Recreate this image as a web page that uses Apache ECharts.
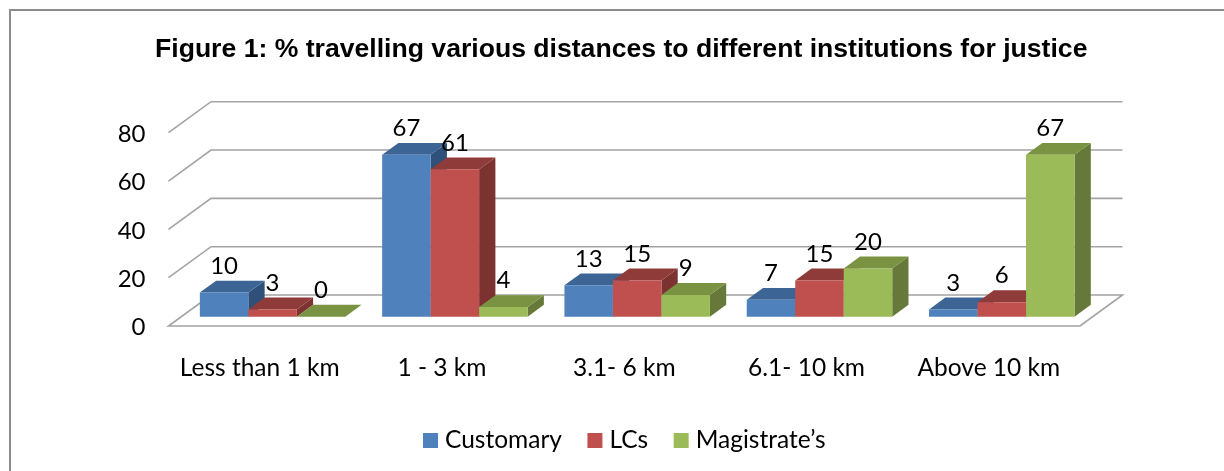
<!DOCTYPE html>
<html>
<head>
<meta charset="utf-8">
<style>html,body{margin:0;padding:0;background:#fff}#c{width:1224px;height:471px}</style>
<script src="https://cdn.jsdelivr.net/npm/echarts@6/dist/echarts.min.js"></script>
</head>
<body>
<div id="c"></div>
<script>
const categories = ['Less than 1 km', '1 - 3 km', '3.1- 6 km', '6.1- 10 km', 'Above 10 km'];
const customary = [10, 67, 13, 7, 3];
const lcs = [3, 61, 15, 15, 6];
const magistrates = [0, 4, 9, 20, 67];
const yTicks = [0, 20, 40, 60, 80];
const titleText = 'Figure 1: % travelling various distances to different institutions for justice';

const DEPTH_X = 42.5, DEPTH_Y = 31;
const BAR_START = 0.3, BAR_DEPTH = 0.383;
const BAR_W = 0.266, BAR_PAD = 0.102;
const GRID_C = '#a3a3a3';
const LABEL_FONT = 'Lato, "Open Sans", sans-serif';

function gridItem(params, api) {
  const v = api.value(0);
  const p = api.coord([0, v]);
  const band = api.size([1, 0])[0];
  const x0 = p[0] - band / 2, x1 = x0 + band * categories.length;
  const y = p[1];
  const style = { stroke: GRID_C, lineWidth: 1.6, fill: null };
  const line = v === 0
    ? { type: 'polygon', shape: { points: [[x0, y], [x1, y], [x1 + DEPTH_X, y - DEPTH_Y], [x0 + DEPTH_X, y - DEPTH_Y]] }, style, silent: true }
    : { type: 'polyline', shape: { points: [[x0, y], [x0 + DEPTH_X, y - DEPTH_Y], [x1 + DEPTH_X, y - DEPTH_Y]] }, style, silent: true };
  const tick = { type: 'text', silent: true, style: { text: String(v), x: x0 - 23, y: y + 1.5, align: 'right', verticalAlign: 'middle', font: '24px ' + LABEL_FONT, fill: '#000' } };
  return { type: 'group', children: [line, tick] };
}

function barSeries(name, values, idx, front, top, side) {
  return {
    type: 'custom', name, z: 3 + idx,
    itemStyle: { color: front },
    encode: { x: 0, y: 1 },
    data: values.map((v, i) => [i, v]),
    renderItem(params, api) {
      const cat = api.value(0), val = api.value(1);
      const base = api.coord([cat, 0]), head = api.coord([cat, val]);
      const band = api.size([1, 0])[0];
      const dx0 = DEPTH_X * BAR_START, dy0 = DEPTH_Y * BAR_START;
      const dx = DEPTH_X * BAR_DEPTH, dy = DEPTH_Y * BAR_DEPTH;
      const L = base[0] - band / 2 + dx0 + band * (BAR_PAD + BAR_W * idx);
      const R = L + band * BAR_W;
      const B = base[1] - dy0, T = head[1] - dy0;
      const children = [];
      children.push({ type: 'polygon', shape: { points: [[R, B], [R + dx, B - dy], [R + dx, T - dy], [R, T]] }, style: { fill: side }, silent: true });
      children.push({ type: 'polygon', shape: { points: [[L, T], [R, T], [R + dx, T - dy], [L + dx, T - dy]] }, style: { fill: top }, silent: true });
      if (val > 0) children.push({ type: 'rect', shape: { x: L, y: T, width: R - L, height: B - T }, style: { fill: front }, silent: true });
      children.push({ type: 'text', z2: 100, silent: true, style: { text: String(val), x: (L + R) / 2, y: T - 26.5, align: 'center', verticalAlign: 'middle', font: '24px ' + LABEL_FONT, fill: '#000' } });
      return { type: 'group', children };
    }
  };
}

const chart = echarts.init(document.getElementById('c'), null, { renderer: 'canvas' });
chart.setOption({
  animation: false,
  backgroundColor: '#fff',
  title: {
    text: titleText, left: 150, top: 31,
    textStyle: { fontFamily: '"Liberation Sans", Arial, sans-serif', fontWeight: 'bold', fontSize: 26.6, color: '#000' }
  },
  grid: { left: 168.5, top: 132.7, width: 911.5, height: 193.3, containLabel: false },
  xAxis: {
    type: 'category', data: categories,
    axisLine: { show: false }, axisTick: { show: false },
    axisLabel: { margin: 30, color: '#000', fontFamily: LABEL_FONT, fontSize: 24.5, interval: 0 }
  },
  yAxis: {
    type: 'value', min: 0, max: 80, interval: 20,
    axisLine: { show: false }, axisTick: { show: false }, splitLine: { show: false },
    axisLabel: { show: false }
  },
  legend: {
    data: ['Customary', 'LCs', 'Magistrate\u2019s'],
    left: 423, top: 428, padding: 0, icon: 'rect', itemWidth: 15, itemHeight: 15, itemGap: 25.5,
    selectedMode: false,
    textStyle: { color: '#000', fontFamily: LABEL_FONT, fontSize: 24.5, padding: [0, 0, 0, 2] }
  },
  graphic: [
    { type: 'polyline', silent: true, shape: { points: [[10, 471], [10, 10], [1224, 10]] }, style: { stroke: '#8c8c8c', lineWidth: 2, fill: null } }
  ],
  series: [
    { type: 'custom', z: 2, silent: true, encode: { y: 0 }, data: yTicks.map(v => [v]), renderItem: gridItem },
    barSeries('Customary', customary, 0, '#4f81bd', '#3c6595', '#2f5078'),
    barSeries('LCs', lcs, 1, '#c0504d', '#8f3b39', '#7b3231'),
    barSeries('Magistrate\u2019s', magistrates, 2, '#9bbb59', '#7a9342', '#67793a')
  ]
});
</script>
</body>
</html>
